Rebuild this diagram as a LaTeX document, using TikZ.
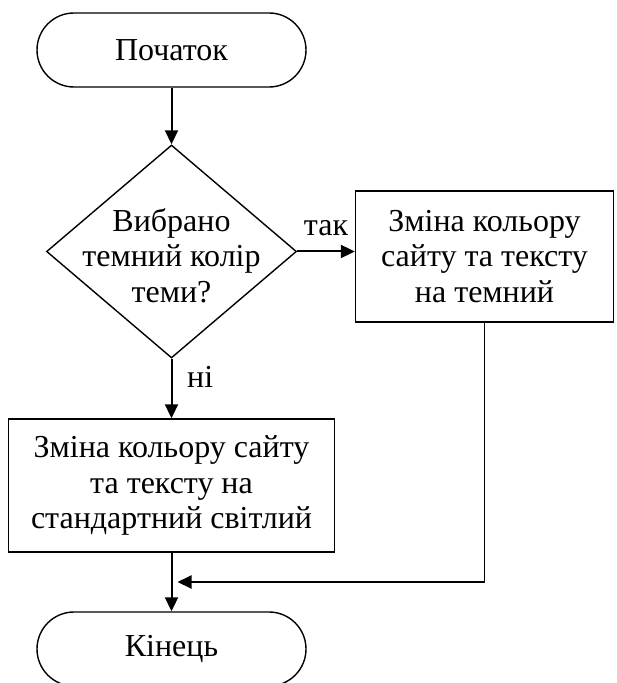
\documentclass[tikz,border=0pt]{standalone}
\usepackage{fontspec}
\setmainfont{Liberation Serif}
\usetikzlibrary{shapes.geometric, positioning, arrows.meta, calc}

\begin{document}
\begin{tikzpicture}[x=0.5pt, y=-0.5pt,
		every node/.style={font=\fontsize{16}{17.75}\selectfont},
		terminal/.style={draw, line width=0.7pt, rectangle, rounded corners=18.5pt, minimum width=134.5pt, minimum height=37pt},
		decision/.style={draw, line width=0.7pt, diamond, minimum width=125pt, minimum height=106.5pt, inner sep=0pt},
		process/.style={draw, line width=0.7pt, rectangle, align=center, inner sep=0pt},
		line/.style={line width=0.7pt},
		arrow/.style={line width=1pt, -{Triangle[length=7pt, width=6.5pt]}}]
				\useasboundingbox (0,0) rectangle (616,683);
				\node[terminal] (start) at (171.5,50) {Початок};
				\node[decision, below of=start, node distance=100.75pt] (choice) {};
				\node[align=center, yshift=-2pt] (choicetext) at (choice) {Вибрано\\темний колір\\теми?};
				\node[process, right of=choice, node distance=156.5pt, yshift=-2.5pt, minimum width=129pt, minimum height=65.5pt] (dark) {Зміна кольору\\сайту та тексту\\на темний};
				\node[process, below of=choice, node distance=117pt, minimum width=163pt, minimum height=66.5pt] (light) {Зміна кольору сайту\\та тексту на\\стандартний світлий};
				\node[terminal, below of=light, node distance=81.75pt] (end) {Кінець};
				\coordinate (join) at ($(light.south)!0.5!(end.north)$);
				\path[arrow] (start) edge (choice)
					(choice.east) edge node [above=4pt, name=yes] {так} (choice.east -| dark.west)
					(choice) edge node [right=4pt, pos=0.3, name=no] {ні} (light)
					(light) edge (end);
				\draw[line] (dark.south) -- (dark.south |- join);
				\draw[arrow, shorten >=3pt] (dark.south |- join) -- (join);
			\end{tikzpicture}
\end{document}
